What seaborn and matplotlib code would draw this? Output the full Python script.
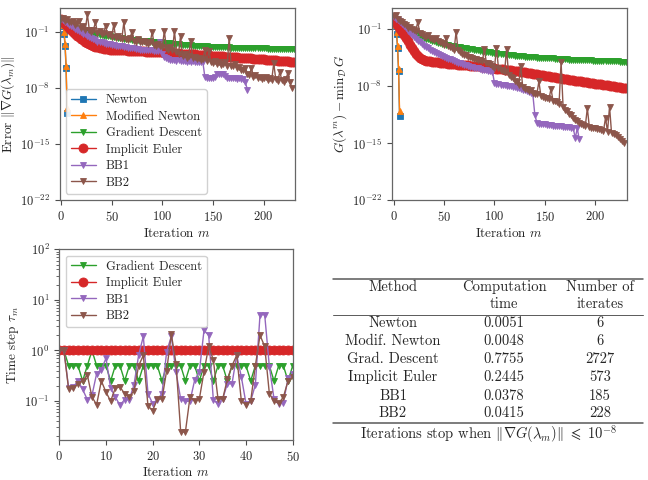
import numpy as np
import matplotlib
matplotlib.use("Agg")
import matplotlib.pyplot as plt
import seaborn as sns
from matplotlib.lines import Line2D
from matplotlib.ticker import NullLocator, FixedLocator

# ---------------- data ----------------
labels = ["Newton", "Modified Newton", "Gradient Descent", "Implicit Euler", "BB1", "BB2"]
colors = ["#1f77b4", "#ff7f0e", "#2ca02c", "#d62728", "#9467bd", "#8c564b"]
markers = ["s", "^", "v", "o", "v", "v"]

# Panel 1: log10 of gradient norm. Newton-type: iterations 0..6; others sampled every 2 iterations
grad_newton = [0.5, 0.3, -0.2, -1.2, -2.75, -5.5, -11.1]
grad_modnewton = [0.5, 0.3, -0.1, -1.0, -2.5, -5.2, -10.5]
grad_gd = [0.40, 0.24, 0.08, -0.06, -0.22, -0.38, -0.46, -0.54, -0.63, -0.71, -0.80, -0.87, -0.94, -1.01,
           -1.08, -1.15, -1.20, -1.25, -1.30, -1.35, -1.40, -1.44, -1.48, -1.52, -1.56, -1.60, -1.64, -1.68,
           -1.72, -1.76, -1.80, -1.83, -1.86, -1.89, -1.92, -1.95, -1.98, -2.01, -2.04, -2.07, -2.10, -2.12,
           -2.14, -2.16, -2.18, -2.20, -2.22, -2.24, -2.26, -2.28, -2.30, -2.33, -2.36, -2.39, -2.42, -2.45,
           -2.48, -2.51, -2.54, -2.57, -2.60, -2.62, -2.64, -2.66, -2.68, -2.70, -2.72, -2.73, -2.75, -2.76,
           -2.78, -2.79, -2.81, -2.82, -2.84, -2.85, -2.86, -2.87, -2.88, -2.89, -2.90, -2.91, -2.92, -2.93,
           -2.94, -2.95, -2.96, -2.97, -2.98, -2.99, -3.00, -3.01, -3.01, -3.02, -3.02, -3.03, -3.04, -3.04,
           -3.05, -3.05, -3.06, -3.06, -3.07, -3.07, -3.08, -3.08, -3.08, -3.09, -3.09, -3.10, -3.10, -3.10,
           -3.11, -3.11, -3.12, -3.12]
grad_ie = [0.6, 0.3, 0.05, -0.2, -0.45, -0.7, -0.95, -1.2, -1.45, -1.65, -1.85, -2.05, -2.2, -2.35, -2.5,
           -2.62, -2.73, -2.83, -2.92, -3.0, -3.06, -3.1, -3.14, -3.17, -3.2, -3.22, -3.23, -3.25, -3.26,
           -3.27, -3.29, -3.30, -3.31, -3.33, -3.34, -3.35, -3.37, -3.38, -3.39, -3.41, -3.42, -3.43, -3.45,
           -3.46, -3.47, -3.49, -3.50, -3.51, -3.53, -3.54, -3.55, -3.57, -3.58, -3.59, -3.61, -3.62, -3.64,
           -3.66, -3.67, -3.69, -3.71, -3.72, -3.74, -3.76, -3.77, -3.79, -3.81, -3.82, -3.84, -3.86, -3.87,
           -3.89, -3.91, -3.92, -3.94, -3.96, -3.98, -3.99, -4.01, -4.03, -4.05, -4.07, -4.08, -4.10, -4.12,
           -4.14, -4.16, -4.17, -4.19, -4.21, -4.23, -4.25, -4.27, -4.29, -4.31, -4.33, -4.35, -4.37, -4.39,
           -4.41, -4.43, -4.45, -4.47, -4.49, -4.51, -4.53, -4.55, -4.57, -4.59, -4.61, -4.63, -4.65, -4.67,
           -4.69, -4.71, -4.73]
grad_bb1 = [0.6, 0.45, 0.3, 0.1, -0.1, -0.3, -0.4, -0.6, -0.7, -0.9, -1.0, -1.2, -1.3, -1.5, -1.6, -1.8,
            -1.9, -2.0, -2.2, -2.2, -2.3, -2.35, -2.45, -2.5, -2.55, -2.6, -2.65, -2.7, -2.7, -2.8, -2.8,
            -2.85, -2.9, -2.95, -3.0, -3.0, -3.05, -3.1, -3.15, -3.2, -3.2, -3.25, -3.25, -3.3, -3.3, -3.3,
            -3.35, -3.4, -3.4, -2.3, -3.8, -4.1, -4.3, -4.4, -4.5, -4.55, -4.5, -4.6, -4.55, -4.65, -4.6,
            -4.6, -4.7, -4.65, -4.7, -4.6, -4.7, -4.75, -4.7, -4.8, -4.75, -6.6, -6.8, -6.75, -6.8, -6.7,
            -6.6, -6.3, -6.2, -6.25, -6.2, -6.5, -6.7, -6.75, -6.8, -6.75, -6.8, -6.85, -6.8, -6.85, -6.9,
            -7.3, -8.2]
grad_bb2 = [0.6, 0.75, 0.4, 0.6, 0.3, 0.2, 0.35, -0.1, 0.1, 0.4, -0.5, -0.3, -0.7, 1.2, -0.8, -1.0, -0.7,
            0.2, -1.1, -0.9, -1.3, -1.1, -0.25, -1.4, -1.2, -1.6, -0.1, -1.7, -1.5, -1.8, -1.9, 0.2, -1.9,
            -2.0, -1.8, -1.0, -2.1, -2.2, -1.9, -2.3, -2.3, -2.1, -2.4, -2.5, -2.3, -1.0, -2.6, -2.7, -2.5,
            -2.8, -2.9, -0.85, -3.0, -3.2, -2.9, -3.3, -0.9, -3.5, -3.7, -1.45, -4.0, -3.8, -4.2, -4.0,
            -2.1, -4.3, -4.1, -4.4, -4.2, -4.5, -4.4, -3.3, -4.6, -3.4, -4.8, -4.9, -4.6, -5.0, -4.8, -5.1,
            -5.0, -4.7, -5.2, -1.7, -5.2, -5.3, -5.0, -5.5, -5.4, -5.7, -5.8, -5.5, -6.2, -6.4, -5.5, -6.6,
            -6.4, -6.8, -6.6, -6.9, -6.8, -6.6, -7.0, -6.8, -7.0, -4.9, -6.9, -7.1, -6.0, -7.0, -7.2, -6.9,
            -6.1, -7.3, -8.05]

# Panel 2: log10 of G(lambda^m) - min G
gap_newton = [0.4, 0.2, -0.6, -1.6, -3.3, -6.1, -11.7]
gap_modnewton = [0.4, 0.2, -0.5, -1.3, -3.1, -5.9, -11.1]
gap_gd = [0.40, 0.20, 0.00, -0.20, -0.40, -0.60, -0.76, -0.92, -1.08, -1.24, -1.40, -1.53, -1.66, -1.79,
          -1.92, -2.05, -2.14, -2.23, -2.32, -2.41, -2.50, -2.57, -2.64, -2.71, -2.78, -2.85, -2.90, -2.95,
          -3.00, -3.05, -3.10, -3.14, -3.18, -3.22, -3.26, -3.30, -3.34, -3.38, -3.42, -3.46, -3.50, -3.54,
          -3.58, -3.62, -3.66, -3.70, -3.74, -3.78, -3.82, -3.86, -3.90, -3.94, -3.98, -4.02, -4.06, -4.10,
          -4.13, -4.16, -4.19, -4.22, -4.25, -4.27, -4.29, -4.31, -4.33, -4.35, -4.37, -4.39, -4.41, -4.43,
          -4.45, -4.47, -4.49, -4.51, -4.53, -4.55, -4.56, -4.57, -4.58, -4.59, -4.60, -4.62, -4.64, -4.66,
          -4.68, -4.70, -4.71, -4.72, -4.73, -4.74, -4.75, -4.76, -4.77, -4.78, -4.79, -4.80, -4.81, -4.82,
          -4.83, -4.84, -4.85, -4.86, -4.87, -4.88, -4.89, -4.90, -4.91, -4.92, -4.93, -4.94, -4.95, -4.96,
          -4.97, -4.98, -4.99, -5.00]
gap_ie = [0.10, -0.25, -0.60, -0.95, -1.30, -1.70, -2.10, -2.50, -2.90, -3.30, -3.70, -4.00, -4.30, -4.50,
          -4.65, -4.76, -4.85, -4.89, -4.93, -4.97, -5.00, -5.03, -5.06, -5.09, -5.12, -5.15, -5.18, -5.21,
          -5.24, -5.27, -5.30, -5.32, -5.34, -5.36, -5.38, -5.40, -5.42, -5.44, -5.46, -5.48, -5.50, -5.52,
          -5.54, -5.56, -5.58, -5.60, -5.64, -5.68, -5.72, -5.76, -5.80, -5.83, -5.86, -5.89, -5.92, -5.95,
          -5.98, -6.01, -6.04, -6.07, -6.10, -6.14, -6.18, -6.22, -6.26, -6.30, -6.34, -6.38, -6.42, -6.46,
          -6.50, -6.54, -6.58, -6.62, -6.66, -6.70, -6.74, -6.78, -6.82, -6.86, -6.90, -6.94, -6.98, -7.02,
          -7.06, -7.10, -7.14, -7.18, -7.22, -7.26, -7.30, -7.34, -7.38, -7.42, -7.46, -7.50, -7.54, -7.58,
          -7.62, -7.66, -7.70, -7.73, -7.76, -7.79, -7.82, -7.85, -7.89, -7.93, -7.97, -8.01, -8.05, -8.09,
          -8.13, -8.17, -8.21, -8.25]
gap_bb1 = [0.5, 0.3, 0.1, -0.1, -0.35, -0.6, -0.9, -1.15, -1.4, -1.65, -1.9, -2.15, -2.4, -2.6, -2.8, -3.0,
           -3.15, -3.3, -3.5, -3.65, -3.8, -3.9, -4.05, -4.15, -4.3, -4.4, -4.5, -4.6, -4.7, -4.8, -4.9,
           -5.0, -5.1, -5.2, -5.3, -5.4, -5.45, -5.5, -5.6, -5.65, -5.7, -5.75, -5.8, -5.9, -5.95, -6.0,
           -6.05, -6.1, -6.15, -6.2, -7.6, -7.7, -7.75, -7.8, -7.85, -7.9, -7.95, -8.0, -8.0, -8.05, -8.1,
           -8.2, -8.25, -8.35, -8.45, -8.5, -8.6, -8.7, -8.85, -9.0, -11.5, -12.5, -12.6, -12.65, -12.7,
           -12.7, -12.75, -12.8, -12.8, -12.85, -12.9, -12.9, -12.95, -12.95, -13.0, -13.0, -13.05, -13.05,
           -13.1, -13.1, -14.4, -13.2, -14.5]
gap_bb2 = [0.6, 0.75, 0.3, 0.0, -0.1, -0.4, -0.5, -0.8, -0.7, -1.0, -1.1, -1.2, -0.1, -1.4, -1.6, -1.8,
           -1.9, -1.7, -2.1, -2.2, -2.3, -2.1, -2.5, -2.6, -2.7, -2.9, -2.1, -3.0, -3.2, -3.3, -3.5, -1.3,
           -3.6, -3.8, -4.0, -4.2, -4.2, -4.4, -4.4, -4.5, -4.6, -4.6, -4.8, -4.8, -4.9, -3.45, -5.1, -5.2,
           -5.3, -5.5, -5.7, -3.3, -5.8, -6.0, -6.1, -6.3, -3.4, -6.6, -6.9, -7.0, -7.3, -7.5, -7.8, -5.5,
           -8.1, -8.3, -8.4, -8.6, -8.5, -8.8, -8.9, -9.0, -7.4, -9.2, -9.3, -9.5, -9.4, -9.6, -8.3, -9.8,
           -9.8, -10.0, -10.2, -5.0, -10.6, -10.9, -11.1, -11.4, -11.6, -11.9, -12.2, -12.3, -12.5, -12.7,
           -12.8, -12.9, -10.7, -13.0, -13.1, -13.1, -13.2, -13.3, -13.3, -13.4, -13.5, -11.9, -13.6, -10.5,
           -13.8, -13.9, -14.0, -14.2, -14.5, -14.7, -15.0]

# Panel 3: time steps tau_m, iterations 0..50
tau_gd = [1, 1, .5, .5, .5, .25, .5, 1, .5, .5, .5, .25, .5, .5, .25, .5, .5, .25, .5, .5, .5, .5, .25,
          .5, .5, .5, .5, .25, .5, .5, .25, .5, .5, .25, .5, .5, .25, .5, .5, .5, .5, .25, .5, .5, .5, .5,
          .25, .5, .5, .25, .5]
tau_ie = [1.0] * 51
tau_bb1 = [1.0, 1.0, 0.18, 0.19, 0.25, 0.17, 0.107, 0.13, 0.35, 0.42, 0.7, 0.18, 0.12, 0.083, 0.107, 0.107,
           0.21, 0.81, 1.9, 0.14, 0.089, 0.107, 0.14, 0.95, 1.9, 0.38, 0.11, 0.098, 0.1, 0.26, 0.38, 2.5,
           2.0, 0.105, 0.089, 0.11, 0.22, 0.22, 0.81, 0.3, 0.089, 0.1, 0.21, 5.1, 5.1, 0.48, 0.11, 0.089,
           0.093, 0.28, 0.35]
tau_bb2 = [1.0, 1.0, 0.17, 0.18, 0.22, 0.25, 0.33, 0.12, 0.085, 0.25, 0.15, 0.1, 0.18, 0.19, 0.14, 0.12,
           0.16, 0.5, 0.8, 0.08, 0.065, 0.11, 0.11, 0.4, 2.1, 0.55, 0.025, 0.024, 0.12, 0.1, 0.11, 0.38,
           1.2, 0.65, 0.11, 0.11, 0.27, 0.5, 0.8, 0.1, 0.085, 0.1, 0.5, 2.0, 1.2, 0.14, 0.1, 0.09, 0.12,
           0.25, 0.3]

# Table
tab_methods = ["Newton", "Modif. Newton", "Grad. Descent", "Implicit Euler", "BB1", "BB2"]
tab_times = ["0.0051", "0.0048", "0.7755", "0.2445", "0.0378", "0.0415"]
tab_iters = ["6", "6", "2727", "573", "185", "228"]

# ---------------- style ----------------
sns.set_style("ticks")
plt.rcParams.update({
    "font.family": "serif",
    "font.serif": ["cmr10"],
    "mathtext.fontset": "cm",
    "axes.formatter.use_mathtext": True,
    "axes.unicode_minus": False,
    "axes.edgecolor": "0.4",
    "axes.linewidth": 0.9,
    "xtick.color": "0.3",
    "ytick.color": "0.3",
    "xtick.labelcolor": "0.15",
    "ytick.labelcolor": "0.15",
    "xtick.major.size": 3.5,
    "ytick.major.size": 3.5,
    "ytick.minor.size": 2.0,
    "xtick.labelsize": 9,
    "ytick.labelsize": 9,
    "axes.labelsize": 9.5,
    "axes.labelpad": 2.0,
    "legend.fontsize": 9,
    "text.color": "0.15",
    "axes.labelcolor": "0.15",
})

fig = plt.figure(figsize=(6.48, 4.8), dpi=100)
W, H = 648.0, 480.0


def add_ax(left, top, right, bottom):
    return fig.add_axes([left / W, 1 - bottom / H, (right - left) / W, (bottom - top) / H])


def draw(ax, xs, ys, color, marker, ms, label):
    sns.lineplot(x=np.asarray(xs, float), y=np.asarray(ys, float), ax=ax, color=color, marker=marker,
                 markersize=ms, markeredgecolor=color, markeredgewidth=0.6, linewidth=1.0,
                 label=label, estimator=None, sort=False, legend=False)


def panel(ax, newton, modnewton, gd, ie, bb1, bb2):
    ax.set_yscale("log")
    series = [newton, modnewton, gd, ie, bb1, bb2]
    for i, s in enumerate(series):
        step = 1 if i < 2 else 2
        xs = np.arange(len(s)) * step
        ys = 10.0 ** np.asarray(s)
        ms = 6.5 if markers[i] == "o" else 5
        draw(ax, xs, ys, colors[i], markers[i], ms, labels[i])
    ax.set_xlim(-1.5, 231)
    ax.set_xticks([0, 50, 100, 150, 200])
    ax.yaxis.set_major_locator(FixedLocator([1e-22, 1e-15, 1e-8, 1e-1]))
    ax.yaxis.set_minor_locator(NullLocator())
    ax.set_xlabel(r"Iteration $m$")


ax1 = add_ax(59.5, 8, 295, 200)
panel(ax1, grad_newton, grad_modnewton, grad_gd, grad_ie, grad_bb1, grad_bb2)
ax1.set_ylim(1e-22, 10 ** 2.0)
ax1.set_ylabel(r"Error $\|\nabla G(\lambda_m)\|$")
ax1.legend(loc="lower left", borderaxespad=0.5, labelspacing=0.35, handlelength=2.0,
           edgecolor="0.8", framealpha=0.9)

ax2 = add_ax(392, 8, 626.7, 200)
panel(ax2, gap_newton, gap_modnewton, gap_gd, gap_ie, gap_bb1, gap_bb2)
ax2.set_ylim(1e-22, 10 ** 1.62)
ax2.set_ylabel(r"$G(\lambda^m) - \mathrm{min}_{\mathcal{D}}\, G$")

ax3 = add_ax(59.3, 249.3, 292.7, 440)
ax3.set_yscale("log")
it = np.arange(51)
draw(ax3, it, tau_gd, colors[2], "v", 5, "Gradient Descent")
draw(ax3, it, tau_ie, colors[3], "o", 6.5, "Implicit Euler")
draw(ax3, it, tau_bb1, colors[4], "v", 5, "BB1")
draw(ax3, it, tau_bb2, colors[5], "v", 5, "BB2")
ax3.set_xlim(0, 50)
ax3.set_ylim(10 ** -1.77, 100)
ax3.set_xticks([0, 10, 20, 30, 40, 50])
ax3.set_xlabel(r"Iteration $m$")
ax3.set_ylabel(r"Time step $\tau_m$")
ax3.legend(loc="upper left", borderaxespad=0.5, labelspacing=0.35, handlelength=2.0,
           edgecolor="0.8", framealpha=0.9)

for ax in (ax1, ax2, ax3):
    for sp in ax.spines.values():
        sp.set_visible(True)

# ---------------- table ----------------
def ftext(x, y, s, **kw):
    fig.text(x / W, 1 - y / H, s, ha="center", va="center", fontsize=10.5, color="0.15", **kw)


def rule(y, lw):
    fig.add_artist(Line2D([333 / W, 643 / W], [1 - y / H, 1 - y / H], transform=fig.transFigure,
                          color="0.35", linewidth=lw))


col_x = [393, 504, 600]
rule(279, 1.1)
ftext(col_x[0], 286.7, "Method")
ftext(col_x[1], 286.7, "Computation")
ftext(col_x[2], 286.7, "Number of")
ftext(col_x[1], 304.3, "time")
ftext(col_x[2], 304.3, "iterates")
rule(315, 0.7)
row_y = [323.3, 341.0, 359.0, 377.3, 395.7, 413.3]
for yy, m, t, n in zip(row_y, tab_methods, tab_times, tab_iters):
    ftext(col_x[0], yy, m)
    ftext(col_x[1], yy, t)
    ftext(col_x[2], yy, n)
rule(423.3, 1.1)
ftext(489, 434.5, r"Iterations stop when $\|\nabla G(\lambda_m)\|\ \leqslant\ 10^{-8}$")

fig.savefig("out.png", dpi=100)
